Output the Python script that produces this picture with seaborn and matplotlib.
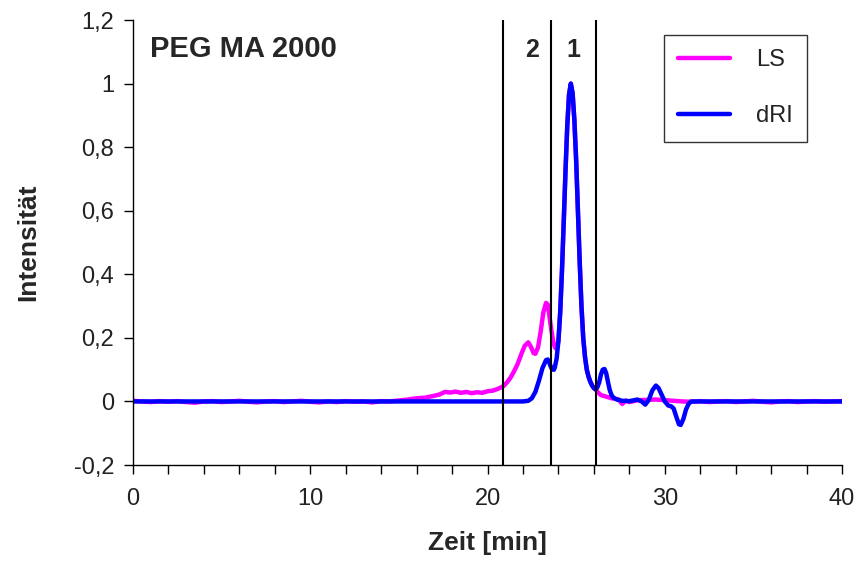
import matplotlib
matplotlib.use("Agg")
import matplotlib.pyplot as plt
import seaborn as sns
import pandas as pd

# Light-scattering detector trace (time in min, normalised intensity)
ls_time = [0.0, 0.5, 1.0, 1.5, 2.0, 2.5, 3.0, 3.5, 4.0, 4.5, 5.0, 5.5, 6.0, 6.5, 7.0, 7.5,
           8.0, 8.5, 9.0, 9.5, 10.0, 10.5, 11.0, 11.5, 12.0, 12.5, 13.0, 13.5, 14.0, 14.5,
           15.0, 15.5, 16.0, 16.5, 17.0, 17.3, 17.6, 17.9, 18.2, 18.5, 18.8, 19.1, 19.4,
           19.7, 20.0, 20.3, 20.6, 20.9, 21.1, 21.3, 21.5, 21.7, 21.9, 22.1, 22.3, 22.45,
           22.6, 22.7, 22.85, 23.0, 23.15, 23.3, 23.4, 23.5, 23.6, 23.7, 23.8, 23.9, 24.0,
           24.1, 24.2, 24.3, 24.4, 24.5, 24.6, 24.7, 24.8, 24.9, 25.0, 25.1, 25.2, 25.3,
           25.4, 25.5, 25.6, 25.7, 25.8, 25.9, 26.0, 26.1, 26.2, 26.4, 26.7, 27.0, 27.4,
           27.6, 27.8, 28.0, 28.5, 29.0, 29.5, 30.0, 30.5, 31.0, 31.5, 32.0, 32.5, 33.0,
           33.5, 34.0, 34.5, 35.0, 35.5, 36.0, 36.5, 37.0, 37.5, 38.0, 38.5, 39.0, 39.5, 40.0]
ls_value = [0.002, 0.000, -0.002, 0.001, -0.001, 0.001, -0.002, -0.004, 0.000, 0.001,
            -0.002, 0.000, 0.002, -0.001, -0.003, 0.000, 0.001, -0.002, 0.000, 0.002,
            -0.001, -0.003, 0.000, -0.002, 0.001, -0.001, 0.000, -0.003, 0.001, 0.000,
            0.003, 0.006, 0.010, 0.012, 0.018, 0.022, 0.030, 0.028, 0.031, 0.027, 0.030,
            0.026, 0.029, 0.027, 0.032, 0.034, 0.040, 0.048, 0.060, 0.075, 0.095, 0.118,
            0.148, 0.175, 0.186, 0.172, 0.152, 0.150, 0.170, 0.220, 0.280, 0.310, 0.305,
            0.265, 0.225, 0.190, 0.170, 0.165, 0.190, 0.280, 0.410, 0.565, 0.725, 0.868,
            0.966, 1.000, 0.970, 0.885, 0.760, 0.600, 0.440, 0.300, 0.200, 0.140, 0.100,
            0.078, 0.062, 0.050, 0.042, 0.038, 0.030, 0.020, 0.015, 0.010, 0.006, -0.008,
            0.003, -0.002, 0.004, 0.005, 0.006, 0.004, 0.002, 0.000, -0.001, 0.001, -0.002,
            0.000, 0.001, -0.002, 0.000, 0.002, -0.001, -0.003, 0.000, 0.001, -0.002,
            0.000, 0.001, -0.001, 0.000, 0.001]

# Differential refractive index trace
dri_time = [0.0, 5.0, 10.0, 15.0, 20.0, 22.0, 22.3, 22.5, 22.7, 22.9, 23.1, 23.3, 23.4,
            23.5, 23.6, 23.7, 23.75, 23.8, 23.9, 24.0, 24.1, 24.2, 24.3, 24.4, 24.5, 24.6,
            24.7, 24.8, 24.9, 25.0, 25.1, 25.2, 25.3, 25.4, 25.5, 25.6, 25.7, 25.8, 25.9,
            26.0, 26.1, 26.2, 26.3, 26.4, 26.5, 26.6, 26.7, 26.8, 26.9, 27.0, 27.1, 27.3,
            27.6, 28.0, 28.2, 28.45, 28.7, 28.9, 29.1, 29.3, 29.5, 29.65, 29.85, 30.0,
            30.2, 30.35, 30.5, 30.65, 30.8, 30.9, 31.05, 31.2, 31.35, 31.5, 35.0, 40.0]
dri_value = [0.0, 0.0, 0.0, 0.0, 0.0, 0.0, 0.002, 0.010, 0.030, 0.065, 0.105, 0.130,
             0.132, 0.120, 0.105, 0.100, 0.100, 0.108, 0.135, 0.190, 0.280, 0.410, 0.565,
             0.725, 0.868, 0.966, 1.000, 0.970, 0.885, 0.760, 0.600, 0.440, 0.300, 0.200,
             0.140, 0.100, 0.078, 0.062, 0.050, 0.042, 0.038, 0.045, 0.060, 0.085, 0.100,
             0.102, 0.088, 0.060, 0.035, 0.020, 0.012, 0.006, 0.002, 0.001, 0.003, 0.006,
             0.000, -0.010, 0.005, 0.035, 0.050, 0.042, 0.018, 0.000, -0.013, -0.015,
             -0.022, -0.048, -0.072, -0.074, -0.055, -0.025, -0.007, 0.000, 0.0, 0.0]

series_names = ["LS", "dRI"]
series_colors = ["#FF00FF", "#0000FF"]

# Fraction boundaries and their labels
cut_times = [20.9, 23.6, 26.1]
fraction_labels = ["2", "1"]
fraction_pos = [22.5, 24.85]

y_ticks = [-0.2, 0.0, 0.2, 0.4, 0.6, 0.8, 1.0, 1.2]
y_tick_labels = ["-0,2", "0", "0,2", "0,4", "0,6", "0,8", "1", "1,2"]
x_ticks = list(range(0, 41, 2))
x_tick_labels = [str(t) if t % 10 == 0 else "" for t in x_ticks]

df = pd.concat([
    pd.DataFrame({"Zeit": ls_time, "Intensität": ls_value, "Signal": series_names[0]}),
    pd.DataFrame({"Zeit": dri_time, "Intensität": dri_value, "Signal": series_names[1]}),
], ignore_index=True)

sns.set_style("white")
plt.rcParams["font.family"] = ["Liberation Sans", "DejaVu Sans"]

fig = plt.figure(figsize=(8.63, 5.61), dpi=100)
ax = fig.add_axes([0.1541, 0.1711, 0.8216, 0.7932])

sns.lineplot(data=df, x="Zeit", y="Intensität", hue="Signal", hue_order=series_names,
             palette=series_colors, estimator=None, sort=False, linewidth=3.2, ax=ax,
             legend=False)

for t in cut_times:
    ax.axvline(t, color="black", linewidth=1.5, zorder=5)

for lab, xp in zip(fraction_labels, fraction_pos):
    ax.text(xp, 1.107, lab, ha="center", va="center", fontsize=18, fontweight="bold")

ax.text(0.95, 1.11, "PEG MA 2000", ha="left", va="center", fontsize=21, fontweight="bold")

ax.set_xlim(0, 40)
ax.set_ylim(-0.2, 1.2)
ax.set_xticks(x_ticks)
ax.set_xticklabels(x_tick_labels)
ax.set_yticks(y_ticks)
ax.set_yticklabels(y_tick_labels)
ax.tick_params(axis="both", direction="out", length=6.5, width=1, color="black",
               labelsize=17, labelcolor="#222222", bottom=True, left=True)
ax.tick_params(axis="x", pad=10)
ax.tick_params(axis="y", pad=7)

for side in ["top", "right"]:
    ax.spines[side].set_visible(False)
for side in ["left", "bottom"]:
    ax.spines[side].set_color("black")
    ax.spines[side].set_linewidth(1.0)

ax.set_xlabel("Zeit [min]", fontsize=19, fontweight="bold", labelpad=15)
ax.set_ylabel("Intensität", fontsize=19, fontweight="bold", labelpad=24)

handles = [plt.Line2D([], [], color=c, linewidth=3.2) for c in series_colors]
leg = ax.legend(handles, series_names, loc="upper right", bbox_to_anchor=(0.9506, 0.9663),
                borderaxespad=0, fontsize=17, frameon=True, fancybox=False,
                handlelength=2.2, handletextpad=1.1, labelspacing=1.45, borderpad=0.6)
leg.get_frame().set_edgecolor("black")
leg.get_frame().set_linewidth(1.0)
for txt in leg.get_texts():
    txt.set_color("#222222")

fig.savefig("out.png", dpi=100)
